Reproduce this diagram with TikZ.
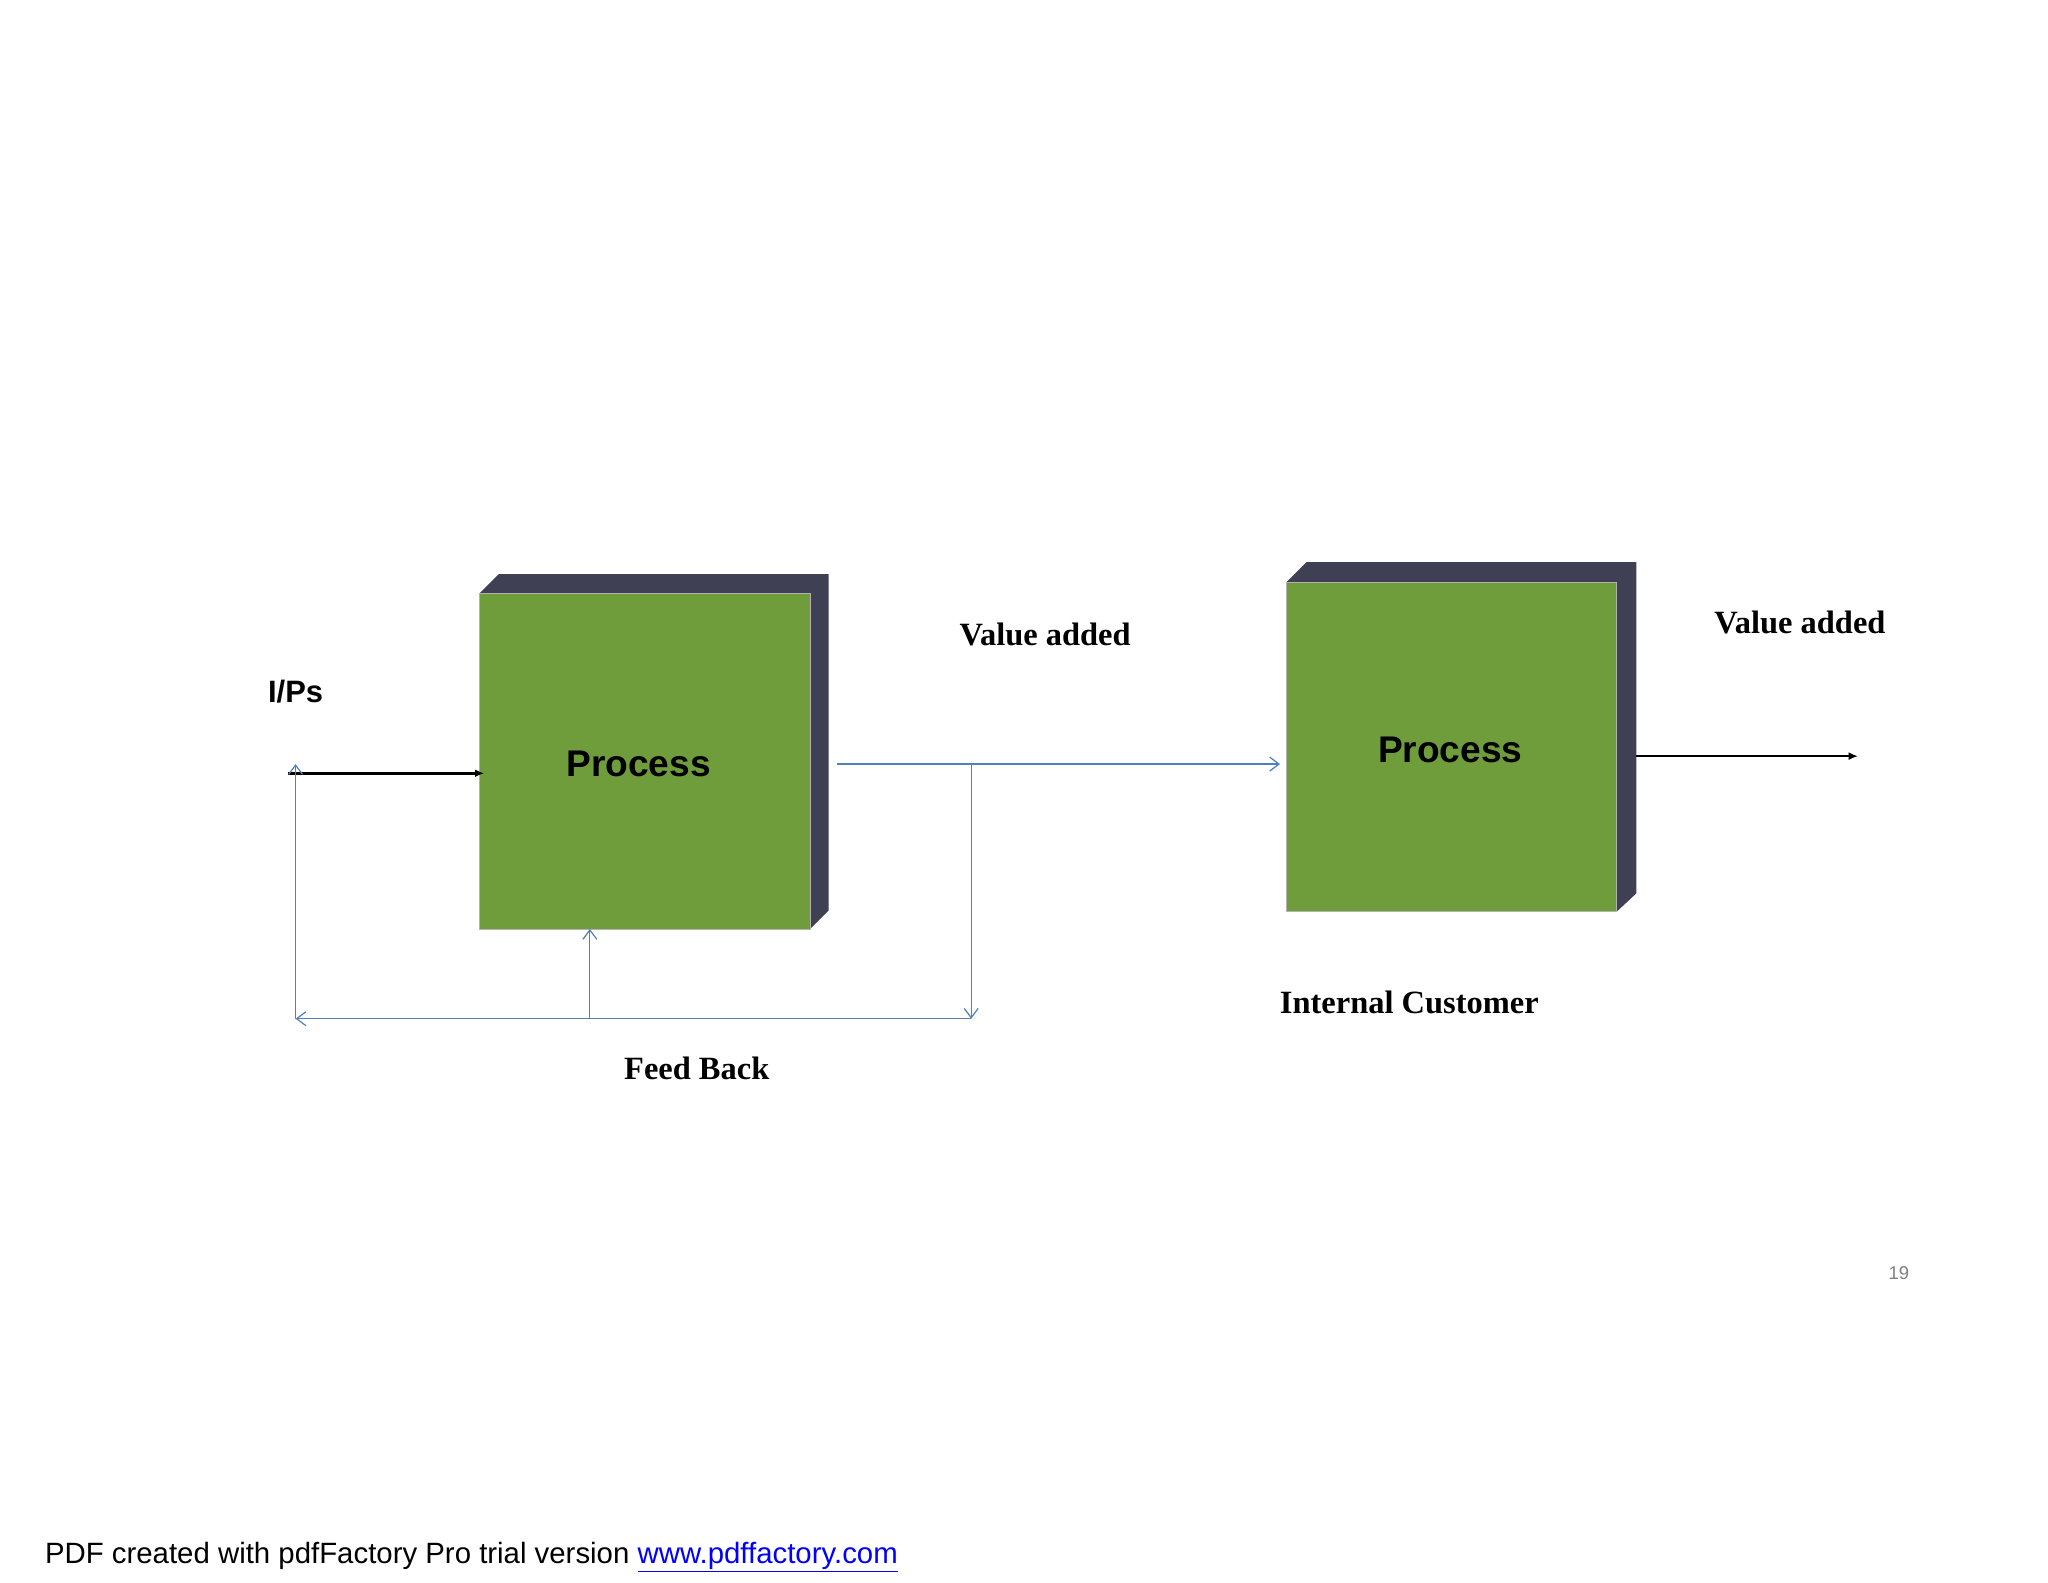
\documentclass[tikz,border=0pt]{standalone}
\usepackage{fontspec}
\setmainfont{Liberation Serif}
\setsansfont{Liberation Sans}
\usepackage{tikz}
\usetikzlibrary{arrows.meta}
\definecolor{boxgreen}{RGB}{112,157,60}
\definecolor{boxdark}{RGB}{64,64,84}
\definecolor{fbblue}{RGB}{79,129,189}
\begin{document}
\begin{tikzpicture}[x=0.03cm,y=-0.03cm,
    lbl/.style={font=\fontsize{21}{24}\selectfont\bfseries},
    proc/.style={font=\sffamily\fontsize{24}{28}\selectfont\bfseries},
    fb/.style={draw=fbblue, line width=0.8pt},
    fbarrow/.style={fb, -{Straight Barb[length=6pt,width=9pt]}},
    blk/.style={line width=1.6pt, -{Latex[length=6pt,width=5pt]}}]
          \useasboundingbox (0,0) rectangle (1552,1199);
          % first box
          \fill[boxdark] (363,450) -- (378,435) -- (628,435) -- (628,690) -- (614,704) -- (614,450) -- cycle;
          \fill[boxgreen] (363,450) rectangle (614,704);
          \draw[gray!60, line width=0.5pt] (363,450) rectangle (614,704);
          % second box
          \fill[boxdark] (975,441) -- (990,426) -- (1240,426) -- (1240,677) -- (1225,691) -- (1225,441) -- cycle;
          \fill[boxgreen] (975,441) rectangle (1225,691);
          \draw[gray!60, line width=0.5pt] (975,441) rectangle (1225,691);
          \node[proc] (p1) at (484,579) {Process};
          \node[proc] (p2) at (1099,568) {Process};
          \node[font=\sffamily\fontsize{20}{24}\selectfont\bfseries] (ips) at (224,524) {I/Ps};
          \node[lbl] (va1) at (792,481) {Value added};
          \node[lbl] (va2) at (1364,472) {Value added};
          \node[lbl] (ic) at (1068,760) {Internal Customer};
          \node[lbl] (fbk) at (528,810) {Feed Back};
          \node[font=\sffamily\fontsize{12}{14}\selectfont, text=gray] (pg) at (1439,965) {19};
          \node[anchor=west, font=\sffamily\fontsize{19}{22}\selectfont] (foot) at (30,1180)
            {PDF created with pdfFactory Pro trial version \textcolor{blue}{\underline{www.pdffactory.com}}};
          % connectors
          \coordinate (in) at (218,586);
          \coordinate (in1) at (367,586);
          \coordinate (o1) at (634,579);
          \coordinate (i2) at (970,579);
          \coordinate (t) at (736,579);
          \coordinate (tb) at (736,772);
          \coordinate (lb) at (224,772);
          \coordinate (lt) at (224,579);
          \coordinate (mb) at (447,772);
          \coordinate (mt) at (447,704);
          \coordinate (o2) at (1240,573);
          \coordinate (out) at (1408,573);
          \draw[blk] (in) -- (in1);
          \draw[blk] (o2) -- (out);
          \draw[fbarrow] (o1) -- (i2);
          \draw[fbarrow] (t) -- (tb);
          \draw[fbarrow] (tb) -- (lb);
          \draw[fbarrow] (lb) -- (lt);
          \draw[fbarrow] (mb) -- (mt);
        \end{tikzpicture}
\end{document}
